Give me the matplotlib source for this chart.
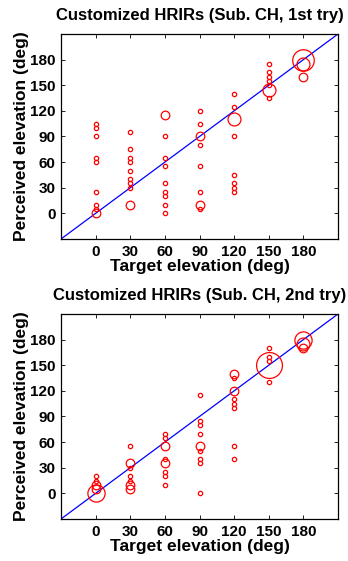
import numpy as np
import matplotlib
matplotlib.use("Agg")
from matplotlib import pyplot as plt

plt.rcParams['font.family'] = ['Liberation Sans', 'DejaVu Sans']

#target elevations shown on both panels
targets = [0, 30, 60, 90, 120, 150, 180]
tick_vals = [0, 30, 60, 90, 120, 150, 180]

#1st try: perceived elevation and number of answers per target
try1_resp = {
    0: [105, 100, 90, 65, 60, 25, 10, 5, 0],
    30: [95, 75, 65, 60, 50, 40, 35, 30, 10],
    60: [115, 90, 65, 55, 35, 25, 20, 10, 0],
    90: [120, 105, 90, 80, 55, 25, 10, 5],
    120: [140, 125, 110, 90, 45, 35, 30, 25],
    150: [175, 165, 160, 155, 150, 145, 135],
    180: [180, 175, 160],
}
try1_count = {
    0: [1, 1, 1, 1, 1, 1, 1, 1, 2],
    30: [1, 1, 1, 1, 1, 1, 1, 1, 2],
    60: [2, 1, 1, 1, 1, 1, 1, 1, 1],
    90: [1, 1, 2, 1, 1, 1, 2, 1],
    120: [1, 1, 3, 1, 1, 1, 1, 1],
    150: [1, 1, 1, 1, 1, 3, 1],
    180: [5, 3, 2],
}

#2nd try
try2_resp = {
    0: [20, 15, 10, 5, 0],
    30: [55, 35, 30, 20, 15, 10, 5],
    60: [70, 65, 55, 40, 35, 25, 20, 10],
    90: [115, 85, 80, 70, 55, 50, 40, 35, 0],
    120: [140, 135, 120, 110, 105, 100, 55, 40],
    150: [170, 160, 155, 150, 130],
    180: [180, 175, 170],
}
try2_count = {
    0: [1, 1, 2, 2, 4],
    30: [1, 2, 1, 1, 1, 2, 2],
    60: [1, 1, 2, 1, 2, 1, 1, 1],
    90: [1, 1, 1, 1, 2, 1, 1, 1, 1],
    120: [2, 1, 2, 1, 1, 1, 1, 1],
    150: [1, 1, 1, 6, 1],
    180: [4, 3, 2],
}

titles = ['Customized HRIRs (Sub. CH, 1st try)', 'Customized HRIRs (Sub. CH, 2nd try)']


def panel(ax, resp, count, title):
    ax.plot([-30, 210], [-30, 210], color='blue', lw=0.9, zorder=1)
    for t in targets:
        for r, c in zip(resp[t], count[t]):
            #marker diameter grows with the number of answers
            ax.plot(t, r, 'o', mfc='none', mec='red', mew=0.9,
                    ms=3.1 * c, zorder=2)
    ax.set_xlim(-30, 210)
    ax.set_ylim(-30, 210)
    ax.set_xticks(tick_vals)
    ax.set_yticks(tick_vals)
    ax.tick_params(direction='in', length=3, width=0.6, top=True, right=True,
                   labelsize=11, pad=4)
    for lab in ax.get_xticklabels() + ax.get_yticklabels():
        lab.set_fontweight('bold')
    for s in ax.spines.values():
        s.set_linewidth(0.9)
    ax.set_title(title, fontsize=12, fontweight='bold', pad=10)
    ax.set_xlabel('Target elevation (deg)', fontsize=12.5, fontweight='bold', labelpad=0)
    ax.set_ylabel('Perceived elevation (deg)', fontsize=12.5, fontweight='bold', labelpad=1)


def main():
    fig = plt.figure(figsize=(3.48, 5.61), dpi=100)
    ax1 = fig.add_axes([0.1753, 0.574, 0.796, 0.3654])
    ax2 = fig.add_axes([0.1753, 0.0749, 0.796, 0.3654])
    panel(ax1, try1_resp, try1_count, titles[0])
    panel(ax2, try2_resp, try2_count, titles[1])
    fig.savefig('out.png', dpi=100)


if __name__ == "__main__":
    main()
